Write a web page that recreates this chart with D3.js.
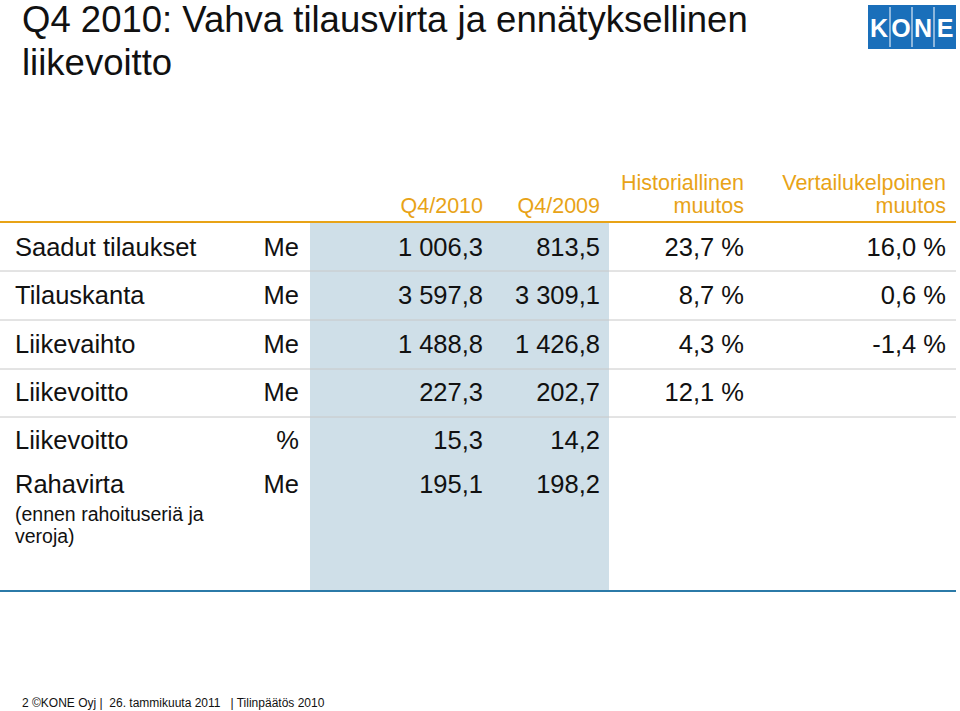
<!DOCTYPE html>
<html><head><meta charset="utf-8">
<script src="https://cdn.jsdelivr.net/npm/d3@7"></script>
<style>body{margin:0;background:#fff}svg{font-family:"Liberation Sans",Arial,sans-serif}</style>
</head><body><svg width="960" height="711"></svg>
<script>
const rowLabels=["Saadut tilaukset","Tilauskanta","Liikevaihto","Liikevoitto","Liikevoitto","Rahavirta"];
const units=["Me","Me","Me","Me","%","Me"];
const q42010=["1 006,3","3 597,8","1 488,8","227,3","15,3","195,1"];
const q42009=["813,5","3 309,1","1 426,8","202,7","14,2","198,2"];
const histChange=["23,7 %","8,7 %","4,3 %","12,1 %","",""];
const compChange=["16,0 %","0,6 %","-1,4 %","","",""];
const colHeaders=[["Q4/2010"],["Q4/2009"],["Historiallinen","muutos"],["Vertailukelpoinen","muutos"]];

const svg=d3.select("svg");
svg.append("text").attr("x",22).attr("y",32).attr("font-size",36.5).attr("fill","#111").text("Q4 2010: Vahva tilausvirta ja ennätyksellinen");
svg.append("text").attr("x",22).attr("y",75).attr("font-size",36.5).attr("fill","#111").text("liikevoitto");
const logo=svg.append("g").attr("transform","translate(868,5)");
logo.append("rect").attr("width",88).attr("height",44).attr("fill","#1a6fba");
const lx=d3.scaleBand().domain([0,1,2,3]).range([0,88]);
"KONE".split("").forEach((c,i)=>{
  if(i>0)logo.append("line").attr("x1",lx(i)).attr("x2",lx(i)).attr("y1",2).attr("y2",42).attr("stroke","#fff").attr("stroke-width",1);
  logo.append("text").attr("x",lx(i)+lx.bandwidth()/2).attr("y",32).attr("text-anchor","middle").attr("font-size",25).attr("font-weight","bold").attr("fill","#fff").text(c);
});
svg.append("rect").attr("x",310).attr("y",222).attr("width",299).attr("height",369).attr("fill","#cfdfe8");
const y=d3.scaleBand().domain(d3.range(4)).range([222,418]);
d3.range(1,4).forEach(i=>svg.append("line").attr("x1",0).attr("x2",956).attr("y1",y(i)).attr("y2",y(i)).attr("stroke","#c8c8c8"));
svg.append("line").attr("x1",0).attr("x2",956).attr("y1",417).attr("y2",417).attr("stroke","#c8c8c8");
svg.append("line").attr("x1",0).attr("x2",956).attr("y1",222).attr("y2",222).attr("stroke","#e8a317").attr("stroke-width",2);
svg.append("line").attr("x1",0).attr("x2",956).attr("y1",591).attr("y2",591).attr("stroke","#2b7aa8").attr("stroke-width",2);
const colRight=[483,600,744,946];
colHeaders.forEach((h,i)=>{
  h.forEach((t,j)=>svg.append("text").attr("x",colRight[i]).attr("y",(h.length==1?213:190+j*23)).attr("text-anchor","end").attr("font-size",21.5).attr("fill","#e8a317").text(t));
});
const baselines=[256,304,353,401,449,493];
rowLabels.forEach((r,i)=>{
  const b=baselines[i];
  svg.append("text").attr("x",15).attr("y",b).attr("font-size",25.5).attr("fill","#111").text(r);
  svg.append("text").attr("x",299).attr("y",b).attr("text-anchor","end").attr("font-size",25.5).attr("fill","#111").text(units[i]);
  [q42010,q42009,histChange,compChange].forEach((arr,k)=>{
    if(arr[i])svg.append("text").attr("x",colRight[k]).attr("y",b).attr("text-anchor","end").attr("font-size",25.5).attr("fill","#111").text(arr[i]);
  });
});
svg.append("text").attr("x",15).attr("y",521).attr("font-size",19.5).attr("fill","#111").text("(ennen rahoituseriä ja");
svg.append("text").attr("x",15).attr("y",543).attr("font-size",19.5).attr("fill","#111").text("veroja)");
svg.append("text").attr("x",22).attr("y",707).attr("font-size",12).attr("fill","#111").style("white-space","pre").text("2 ©KONE Oyj |  26. tammikuuta 2011   | Tilinpäätös 2010");
</script></body></html>
